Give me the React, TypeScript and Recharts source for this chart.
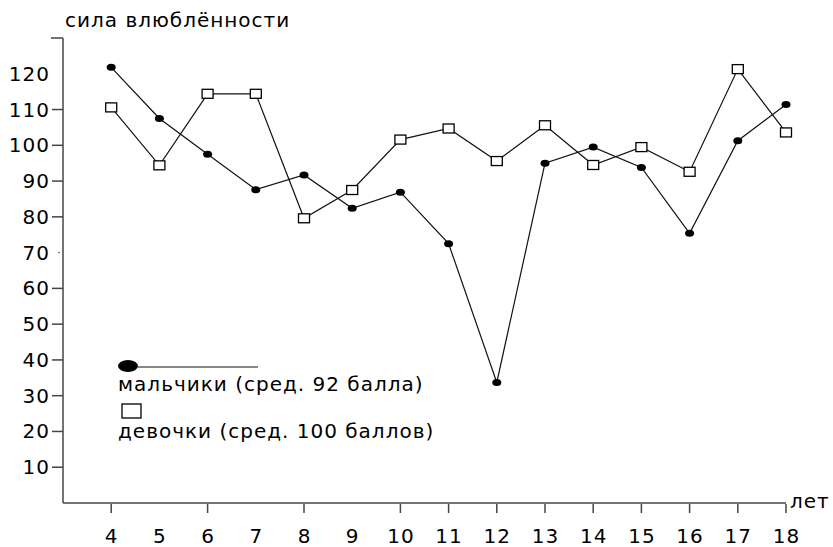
import { LineChart, Line, XAxis, YAxis } from 'recharts'

// возраст (лет)
const AGES = [4, 5, 6, 7, 8, 9, 10, 11, 12, 13, 14, 15, 16, 17, 18]
// сила влюблённости — мальчики
const BOYS = [121.8, 107.5, 97.5, 87.6, 91.7, 82.4, 86.9, 72.5, 33.7, 95, 99.5, 93.8, 75.4, 101.3, 111.4]
// сила влюблённости — девочки
const GIRLS = [110.6, 94.4, 114.4, 114.4, 79.6, 87.5, 101.6, 104.7, 95.6, 105.6, 94.5, 99.5, 92.6, 121.3, 103.6]

const Y_TICKS = [10, 20, 30, 40, 50, 60, 70, 80, 90, 100, 110, 120, 130]
const X_TICKS_WITH_MARK = [4, 6, 8, 10, 11, 12, 13, 14, 15, 16, 17, 18]

const TITLE = 'сила влюблённости'
const X_UNIT = 'лет'
const BOYS_LABEL = 'мальчики (сред. 92 балла)'
const GIRLS_LABEL = 'девочки (сред. 100 баллов)'

const FONT = '"DejaVu Sans", sans-serif'
const FS = 20
const LS = 1
const AXIS = '#444'

const data = AGES.map((age, i) => ({ age, boys: BOYS[i], girls: GIRLS[i] }))

function XTick(props: any) {
  const { x, y, payload } = props
  return (
    <g>
      {X_TICKS_WITH_MARK.includes(payload.value) && (
        <line x1={x} y1={y + 1} x2={x} y2={y + 10} stroke={AXIS} strokeWidth={1.5} />
      )}
      <text x={x + 0.5} y={y + 40} textAnchor="middle" fontFamily={FONT} fontSize={FS} letterSpacing={LS} fill="#000">
        {payload.value}
      </text>
    </g>
  )
}

function YTick(props: any) {
  const { x, y, payload } = props
  const v = payload.value
  if (v === 130) {
    return <line x1={x - 12} y1={y} x2={x} y2={y} stroke={AXIS} strokeWidth={1.5} />
  }
  return (
    <g>
      {v !== 120 && v !== 70 && (
        <line x1={x - 11} y1={y} x2={x} y2={y} stroke={AXIS} strokeWidth={1.5} />
      )}
      {v === 70 && <circle cx={x - 4} cy={y} r={0.8} fill="#555" />}
      <text x={x - 13} y={y + 7} textAnchor="end" fontFamily={FONT} fontSize={FS} letterSpacing={LS} fill="#000">
        {v}
      </text>
    </g>
  )
}

function BoyDot(props: any) {
  const { cx, cy } = props
  return <ellipse cx={cx} cy={cy} rx={4.5} ry={3.5} fill="#000" />
}

function GirlDot(props: any) {
  const { cx, cy } = props
  return <rect x={cx - 5.5} y={cy - 4.5} width={11} height={9} fill="#fff" stroke="#000" strokeWidth={1.3} />
}

export default function App() {
  return (
    <div style={{ position: 'absolute', left: 0, top: 0, width: 833, height: 547, background: '#fff' }}>
      <LineChart width={833} height={547} data={data} margin={{ top: 38, right: 47, left: 0, bottom: 0 }}>
        <XAxis
          dataKey="age"
          type="number"
          domain={[3, 18]}
          ticks={AGES}
          interval={0}
          height={44}
          tickSize={0}
          tickMargin={0}
          tickLine={false}
          axisLine={{ stroke: AXIS, strokeWidth: 1.5 }}
          tick={<XTick />}
        />
        <YAxis
          type="number"
          domain={[0, 130]}
          ticks={Y_TICKS}
          interval={0}
          width={63}
          tickSize={0}
          tickMargin={0}
          tickLine={false}
          axisLine={{ stroke: AXIS, strokeWidth: 1.5 }}
          tick={<YTick />}
        />
        <Line dataKey="boys" stroke="#111" strokeWidth={1.2} dot={<BoyDot />} activeDot={false} isAnimationActive={false} />
        <Line dataKey="girls" stroke="#111" strokeWidth={1.2} dot={<GirlDot />} activeDot={false} isAnimationActive={false} />
      </LineChart>
      <svg width={833} height={547} style={{ position: 'absolute', left: 0, top: 0, pointerEvents: 'none' }}>
        <g fontFamily={FONT} fontSize={FS} letterSpacing={LS} fill="#000">
          <text x={65} y={27}>{TITLE}</text>
          <text x={790} y={508}>{X_UNIT}</text>
          <text x={118} y={391}>{BOYS_LABEL}</text>
          <text x={118} y={438}>{GIRLS_LABEL}</text>
        </g>
        <ellipse cx={128} cy={366} rx={10} ry={6} fill="#000" />
        <line x1={138} y1={367} x2={258} y2={367} stroke="#111" strokeWidth={1.2} />
        <rect x={122} y={404} width={19} height={14} fill="#fff" stroke="#000" strokeWidth={1.3} />
      </svg>
    </div>
  )
}
